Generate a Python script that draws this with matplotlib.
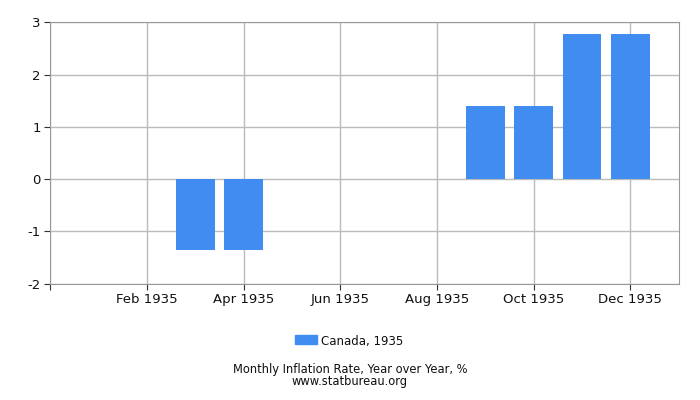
import matplotlib
matplotlib.use("Agg")
import matplotlib.pyplot as plt
from matplotlib.patches import Rectangle

months = ["Jan 1935", "Feb 1935", "Mar 1935", "Apr 1935", "May 1935", "Jun 1935",
          "Jul 1935", "Aug 1935", "Sep 1935", "Oct 1935", "Nov 1935", "Dec 1935"]
values = [0, 0, -1.35, -1.35, 0, 0, 0, 0, 1.40, 1.40, 2.78, 2.78]
series_name = "Canada, 1935"
title = "Monthly Inflation Rate, Year over Year, %"
source = "www.statbureau.org"
y_ticks = [-2, -1, 0, 1, 2, 3]

bar_color = "#418cf0"
grid_color = "#bbbbbb"

fig = plt.figure(figsize=(7, 4), dpi=100)
ax = fig.add_axes([50.3 / 700, 1 - 283.7 / 400, (678.7 - 50.3) / 700, (283.7 - 22.3) / 400])

x = list(range(len(months)))
ax.bar(x, values, width=0.8, color=bar_color, zorder=3)

ax.set_xlim(-1, 12)
ax.set_ylim(-2, 3)
ax.set_yticks(y_ticks)
ax.set_yticklabels([str(v) for v in y_ticks], fontsize=9.5, color="#111111")
tick_idx = [1, 3, 5, 7, 9, 11]
ax.set_xticks([-1] + tick_idx)
ax.set_xticklabels([""] + [months[i] for i in tick_idx], fontsize=9.5, color="#111111")

ax.grid(True, color=grid_color, linewidth=1, zorder=0)
for s in ["top", "right", "left", "bottom"]:
    ax.spines[s].set_color("#999999")
ax.tick_params(axis="both", length=4, color="#333333", pad=3)

# legend
fig.patches.append(Rectangle((295 / 700, 1 - 344 / 400), 21.7 / 700, 9 / 400,
                             transform=fig.transFigure, color=bar_color))
fig.text(321 / 700, 1 - 341 / 400, series_name, fontsize=8.5, va="center", ha="left", color="#111111")

fig.text(0.5, 1 - 370 / 400, title, fontsize=8.3, ha="center", va="center", color="#111111")
fig.text(0.5, 1 - 382 / 400, source, fontsize=8.3, ha="center", va="center", color="#111111")

fig.savefig("out.png", dpi=100)
